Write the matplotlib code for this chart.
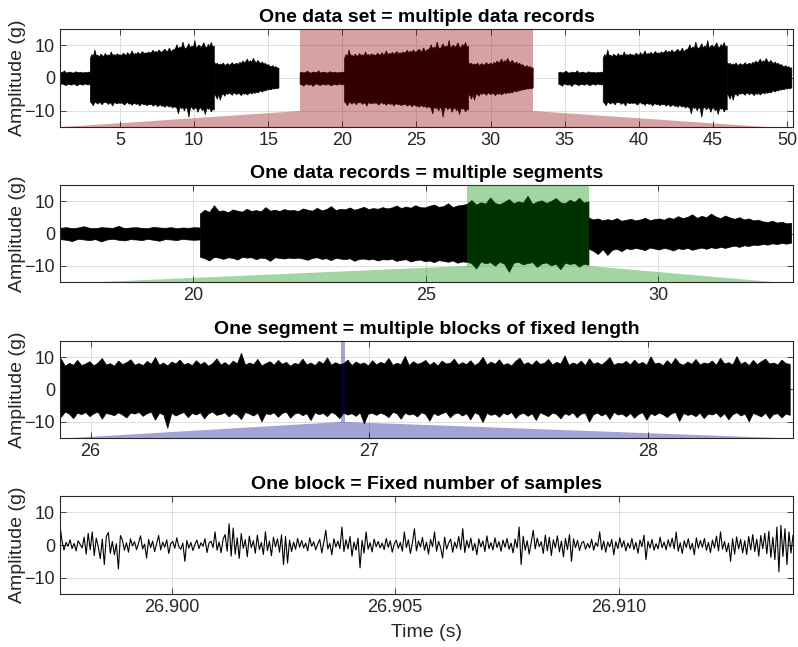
import numpy as np
import matplotlib.pyplot as plt

plt.rcParams['font.family'] = ['Liberation Sans', 'DejaVu Sans']

# ---- data ----
# one data record, envelope of the signal (relative time, s): quiet / loud / medium parts
rec_parts = [0.0, 3.0, 11.36, 15.72]
quiet_up = [1.6, 1.8, 1.5, 1.7, 2.1, 1.6, 1.5, 1.8, 1.7, 1.6, 2.2, 1.5, 1.7, 1.8, 1.6,
            1.5, 1.9, 1.7, 1.6, 1.8, 1.5, 1.7, 1.6, 1.8, 1.7]
quiet_lo = [-1.9, -2.1, -2.5, -1.8, -2.0, -2.2, -1.9, -2.6, -2.0, -1.8, -2.1, -2.3, -1.9,
            -2.0, -2.2, -1.8, -2.1, -2.4, -1.9, -2.0, -2.2, -1.8, -2.0, -2.1, -2.0]
loud_up = [6.0, 7.2, 6.5, 8.6, 6.8, 7.0, 6.4, 7.3, 6.9, 6.6, 7.5, 6.8, 7.1, 6.7, 8.0, 6.9, 7.2, 6.8, 7.4, 7.0,
           7.1, 6.8, 7.6, 7.2, 6.9, 7.8, 7.0, 7.4, 8.3, 7.1, 7.5, 7.3, 7.9, 7.2, 7.6, 8.1, 7.4, 7.7, 7.5, 8.0,
           7.6, 7.9, 8.5, 7.7, 8.2, 7.8, 8.6, 8.0, 7.9, 8.4, 8.8, 8.1, 8.3, 9.2, 8.0, 8.5, 8.7,
           9.0, 10.2, 8.8, 9.5, 9.1, 11.0, 9.3, 8.9, 9.6, 10.5, 9.2, 9.8, 9.4, 11.5, 9.0, 9.7, 10.1,
           9.3, 9.9, 10.8, 9.5, 9.2, 10.3, 9.6, 10.9, 9.4, 9.8]
loud_lo = [-7.3, -7.8, -8.5, -7.4, -7.6, -8.0, -7.5, -7.7, -8.2, -7.4, -7.6, -7.5, -8.1, -7.6, -7.8,
           -8.6, -7.5, -7.7, -7.9, -7.6,
           -7.8, -7.6, -7.9, -8.3, -7.7, -7.5, -8.0, -7.8, -8.4, -7.7, -7.9, -8.1, -7.8, -8.6, -8.0,
           -7.9, -8.2, -8.0, -8.5, -8.1,
           -8.2, -8.0, -8.6, -8.3, -8.1, -8.8, -8.4, -8.2, -8.7, -8.5, -9.0, -8.4, -8.6, -8.9, -8.5,
           -9.2, -8.8,
           -8.9, -9.3, -11.0, -8.8, -9.4, -9.0, -10.1, -8.9, -9.5, -12.0, -9.2, -8.9, -9.7, -9.3,
           -9.0, -10.5, -9.4, -9.1, -10.0, -9.5, -11.2, -9.2, -9.6, -9.3, -10.4, -9.5, -9.8]
med_up = [4.8, 4.2, 4.5, 3.9, 4.3, 4.0, 4.6, 3.8, 4.1, 4.4, 3.9, 4.2, 4.7, 4.0, 4.3, 4.5, 4.1,
          4.8, 4.4, 5.2, 4.6, 5.0, 5.8, 4.7, 5.3, 4.9, 6.0, 5.1, 4.6, 5.4, 4.8, 4.4, 4.9, 4.2,
          4.5, 3.9, 4.1, 3.6, 3.4, 3.8, 3.2, 3.5, 3.0, 3.1]
med_lo = [-4.8, -5.5, -6.5, -5.0, -6.8, -5.2, -4.9, -5.6, -4.7, -5.0, -4.6, -4.9, -5.3, -4.5,
          -4.8, -5.1, -4.6, -4.9, -5.4, -4.7, -5.0, -4.6, -5.2, -4.8, -4.5, -4.9, -4.4, -4.7,
          -4.3, -4.6, -4.2, -3.9, -4.3, -3.8, -4.0, -3.6, -3.7, -3.4, -3.6, -3.2, -3.4, -3.1,
          -3.3, -3.0]
rec_starts = [0.0, 17.15, 34.6]

# one segment (s), envelope of the signal
seg_start, seg_end = 25.88, 28.51
seg_up = [7.8, 9.4, 7.2, 8.1, 7.5, 9.0, 7.4, 7.9, 8.6, 7.3, 8.2, 9.6, 7.6, 8.0, 7.2, 8.8, 7.7, 8.3, 9.2, 7.5,
          8.0, 7.4, 8.7, 7.8, 9.9, 7.5, 8.2, 7.3, 8.5, 7.9, 9.1, 7.6, 8.1, 7.4, 8.9, 7.7, 8.4, 7.2, 8.0, 9.5,
          7.6, 8.3, 7.4, 8.8, 7.9, 11.2, 7.5, 8.2, 7.7, 9.3, 7.3, 8.0, 8.6, 7.5, 9.0, 7.8, 8.4, 7.2, 8.1, 7.7,
          9.4, 7.6, 8.2, 7.4, 8.7, 7.9, 9.8, 7.5, 8.3, 7.7, 8.0, 9.1, 7.4, 8.5, 7.8, 8.2, 7.3, 8.9, 7.6, 8.4,
          7.9, 9.6, 7.5, 8.1, 7.7, 10.3, 7.4, 8.6, 7.8, 8.2, 9.0, 7.5, 8.4, 7.3, 8.8, 7.9, 8.1, 9.4, 7.6, 8.3,
          7.7, 8.9, 7.4, 8.2, 10.0, 7.6, 8.5, 7.8, 9.2, 7.5, 8.0, 7.3, 8.7, 9.7, 7.7, 8.3, 7.5, 8.9, 7.8, 8.1,
          9.3, 7.6, 8.4, 7.9, 10.4, 7.5, 8.2, 7.7, 8.8, 7.4, 9.5, 7.8, 8.3, 7.6, 8.6, 9.9, 7.5, 8.1, 7.9, 8.7,
          7.6, 9.1, 7.8, 8.4, 7.5, 10.1, 7.9, 8.2, 7.4, 8.9, 7.7, 9.6, 8.0, 7.5, 8.5, 7.8, 9.3, 7.6, 8.2, 7.9,
          8.8, 7.5, 9.7, 7.9, 8.3, 7.6, 10.2, 7.8, 8.5, 7.4, 9.0, 7.7, 8.6, 9.4, 7.9, 8.2, 7.6, 9.1, 8.0, 7.8]
seg_lo = [-7.2, -8.6, -7.0, -7.6, -9.0, -7.3, -7.8, -7.1, -8.4, -7.5, -7.0, -9.2, -7.4, -7.7, -8.1, -7.2, -7.9, -8.8, -7.3, -7.6,
          -7.1, -8.3, -7.5, -7.0, -9.5, -7.4, -7.8, -12.0, -7.3, -8.2, -7.6, -7.1, -8.7, -7.4, -7.9, -7.2, -9.1, -7.5, -7.0, -8.0,
          -7.7, -7.2, -8.5, -7.4, -7.9, -9.3, -7.1, -7.6, -8.2, -7.3, -10.0, -7.5, -7.8, -7.2, -8.6, -7.4, -7.0, -8.9, -7.6, -7.3,
          -8.1, -7.5, -9.6, -7.2, -7.8, -7.4, -8.4, -7.1, -7.7, -9.0, -7.3, -7.9, -7.5, -8.3, -7.2, -10.6, -7.6, -7.4, -8.0, -7.3,
          -7.8, -8.7, -7.1, -7.5, -9.2, -7.3, -7.9, -7.6, -8.5, -7.2, -7.7, -9.8, -7.4, -8.1, -7.5, -7.0, -8.8, -7.6, -7.3, -8.2,
          -7.5, -9.4, -7.2, -7.8, -10.2, -7.4, -8.0, -7.6, -8.6, -7.3, -7.9, -7.1, -9.0, -7.7, -7.4, -8.3, -7.5, -9.6, -7.2, -7.8,
          -8.4, -7.3, -7.7, -9.1, -7.5, -8.0, -7.2, -8.8, -7.6, -7.4, -10.1, -7.8, -7.3, -8.2, -7.5, -9.3, -7.1, -7.9, -7.6, -8.5,
          -7.4, -8.9, -7.7, -7.2, -9.5, -7.5, -8.1, -7.3, -7.8, -8.7, -7.6, -7.1, -9.9, -7.4, -8.0, -7.7, -8.4, -7.3, -9.0, -7.6,
          -7.9, -7.3, -8.6, -7.5, -9.4, -7.8, -7.2, -8.2, -7.6, -10.0, -7.4, -7.9, -8.5, -7.3, -9.1, -7.7, -7.5, -8.8, -7.6, -8.0]

# one block (s) and its samples (g)
blk_start, blk_end = 26.8975, 26.9139
blk_vals = [6.0, 1.2, -1.5, 0.8, -0.4, 1.6, -1.1, 0.5, -1.8, 1.3, 0.2, -0.9, 2.4, -2.8, 3.6, -1.5, 4.0, -3.2, 2.1, -0.6,
            -4.2, 1.8, -6.0, 2.6, 3.8, -2.5, 1.1, -3.0, 0.4, -7.3, 2.9, 1.5, -1.6, 0.7, -2.2, 1.9, -0.3, 1.0, -1.4, 0.6,
            2.8, -1.2, 0.3, -4.0, 1.7, -0.8, 1.2, -2.0, 0.5, 2.9, -1.5, 0.9, -0.7, 1.6, -2.6, 0.4, 1.1, -1.0, 2.2, -0.5,
            -1.3, 0.6, -5.0, 1.4, -0.9, 0.8, -1.7, 0.2, 1.5, -1.1, 0.7, -0.4, 1.9, -2.3, 0.6, 1.2, -0.8, 4.0, -1.6, 0.9,
            -2.4, 1.8, 3.2, -1.9, 6.5, -3.4, 5.2, -2.8, 2.2, -4.1, 3.5, -1.0, 1.6, -3.6, 2.7, -0.8, 1.3, -2.5, 3.0, -1.4,
            0.8, -2.9, 4.0, -1.7, 1.2, -3.3, 2.4, -0.6, 1.9, -2.2, 3.1, -6.0, 2.6, -5.5, 1.5, -2.0, 0.9, -1.3, 2.0, -0.7,
            1.4, -0.9, 0.6, -1.8, 2.2, -0.4, 1.0, -1.5, 0.3, 1.7, -2.4, 0.8, 4.5, -1.2, 0.5, -3.0, 1.9, -0.6, 1.2, -1.1,
            5.5, -2.0, 1.6, -1.2, 2.6, -3.4, 0.9, -1.6, 2.1, -7.0, 1.4, -2.5, 4.0, -1.3, 0.7, -2.1, 1.8, -0.5, 1.1, -0.9,
            0.6, -1.4, 2.0, -0.7, 1.3, -2.2, 0.4, 1.5, -1.0, 0.8, -1.9, 4.0, -0.8, 1.6, -2.6, 0.7, 5.0, -1.8, 1.2, -0.6,
            2.3, -1.6, 0.9, -2.8, 1.7, -0.5, 4.0, -1.9, 1.1, -0.8, -4.0, 2.4, -1.3, 0.6, 1.8, -2.2, 0.9, -1.0, 2.6, -1.4,
            5.0, -2.3, 1.4, -0.9, 2.1, -1.7, 0.5, -3.0, 1.9, -0.6, 1.2, -2.0, 2.8, -1.1, 0.7, -1.5, 2.2, -0.8, 1.0, -1.9,
            1.5, -0.7, 2.0, -1.3, 0.6, -2.4, 1.8, -0.9, 5.5, -6.0, 2.7, -1.6, 1.3, -2.8, 0.8, 4.5, -1.2, 2.1, -0.5, 1.0,
            -2.6, 3.0, -1.8, 2.4, -3.2, 1.6, -0.9, 2.8, -2.1, 1.2, -3.6, 2.0, -1.4, 3.2, -5.0, 1.9, -0.8, 1.4, -1.7, 0.6,
            1.1, -1.3, 0.5, -0.9, 1.8, -1.6, 0.7, -0.4, 4.0, -1.5, 1.2, -2.2, 0.9, -0.6, 1.7, -3.0, 1.0, -1.1, 2.2, -0.7,
            1.3, -1.8, 0.6, -1.0, 2.0, -1.4, 0.8, -2.5, 1.5, -0.5, 3.0, -4.5, 1.1, -0.9, 1.7, -1.6, 0.4, -1.2, 2.4, -0.8,
            0.9, -1.5, 1.6, -0.6, 2.1, -1.2, 4.0, -1.9, 0.7, -2.6, 1.3, -0.8, 1.9, -1.4, 0.5, -3.0, 2.2, -1.0, 1.4, -0.7,
            2.0, -1.6, 0.8, -2.3, 1.5, -0.9, 2.7, -1.8, 4.0, -1.3, 1.1, -2.1, 0.6, -5.0, 1.9, -2.8, 2.5, -1.2, 1.7, -2.4,
            1.3, -2.9, 2.6, -1.5, 3.2, -2.0, 1.8, -3.4, 2.9, -1.1, 3.6, -2.7, 4.2, -3.8, 2.4, -4.5, 5.5, -8.2, 6.0, -3.5,
            5.0, -6.0, 4.0, -2.5, 3.0]

# zoom regions and their ramps: [ramp start, zoom start, zoom end, ramp end]
zoom1 = [1.2, 17.15, 32.87, 48.6]
zoom2 = [18.0, 25.88, 28.51, 32.48]
zoom3 = [25.93, blk_start, blk_end, 28.47]
ramp_top = -10

titles = ['One data set = multiple data records',
          'One data records = multiple segments',
          'One segment = multiple blocks of fixed length',
          'One block = Fixed number of samples']
xlims = [(0.95, 50.4), (17.13, 32.9), (25.89, 28.52), (blk_start, blk_end)]
xticks = [list(range(5, 51, 5)), [20, 25, 30], [26, 27, 28], [26.900, 26.905, 26.910]]
xtick_labels = [None, None, None, ['26.900', '26.905', '26.910']]


def fill_env(ax, t0, t1, up, lo):
    tu = np.linspace(t0, t1, len(up))
    tl = np.linspace(t0, t1, len(lo))
    xs = np.concatenate([tu, tl[::-1]])
    ys = np.concatenate([up, lo[::-1]])
    ax.fill(xs, ys, color='k', lw=0.5, zorder=2)


def draw_record(ax, start):
    parts = [(quiet_up, quiet_lo), (loud_up, loud_lo), (med_up, med_lo)]
    for i, (up, lo) in enumerate(parts):
        fill_env(ax, start + rec_parts[i], start + rec_parts[i + 1], up, lo)


def draw_zoom(ax, z, color):
    ax.axvspan(z[1], z[2], color=color, alpha=0.36, lw=0, zorder=3)
    ax.fill([z[0], z[1], z[1]], [-15, -15, ramp_top], color=color, alpha=0.36, lw=0, zorder=3)
    ax.fill([z[2], z[2], z[3]], [ramp_top, -15, -15], color=color, alpha=0.36, lw=0, zorder=3)


fig = plt.figure(figsize=(7.98, 6.47), dpi=100)
rects = [[60, 29, 733, 98], [60, 185, 733, 97], [60, 341, 733, 97], [60, 496, 733, 98]]
axes = []
for r in rects:
    axes.append(fig.add_axes([r[0] / 798, 1 - (r[1] + r[3]) / 647, r[2] / 798, r[3] / 647]))

ax1, ax2, ax3, ax4 = axes
for s in rec_starts:
    draw_record(ax1, s)
draw_zoom(ax1, zoom1, '#8c0000')

draw_record(ax2, rec_starts[1])
draw_zoom(ax2, zoom2, '#008c00')

fill_env(ax3, seg_start, seg_end, seg_up, seg_lo)
draw_zoom(ax3, zoom3, '#00008c')

ax4.plot(np.linspace(blk_start, blk_end, len(blk_vals)), blk_vals, color='k', lw=0.8, zorder=2)

for i, ax in enumerate(axes):
    ax.set_xlim(xlims[i])
    ax.set_ylim(-15, 15)
    ax.set_yticks([-10, 0, 10])
    ax.set_xticks(xticks[i])
    if xtick_labels[i]:
        ax.set_xticklabels(xtick_labels[i])
    ax.tick_params(direction='in', top=True, right=True, length=4.5, width=0.6,
                   colors='#262626', labelsize=13)
    ax.grid(True, color='#dedede', lw=0.7)
    ax.set_axisbelow(True)
    for sp in ax.spines.values():
        sp.set_color('#262626')
        sp.set_linewidth(0.8)
    ax.set_ylabel('Amplitude (g)', fontsize=14, color='#262626')
    ax.yaxis.set_label_coords(-0.047, 0.5)
    ax.set_title(titles[i], fontsize=14, fontweight='bold', pad=5)

ax4.set_xlabel('Time (s)', fontsize=14, color='#262626', labelpad=6)

fig.savefig('out.png', dpi=100)
